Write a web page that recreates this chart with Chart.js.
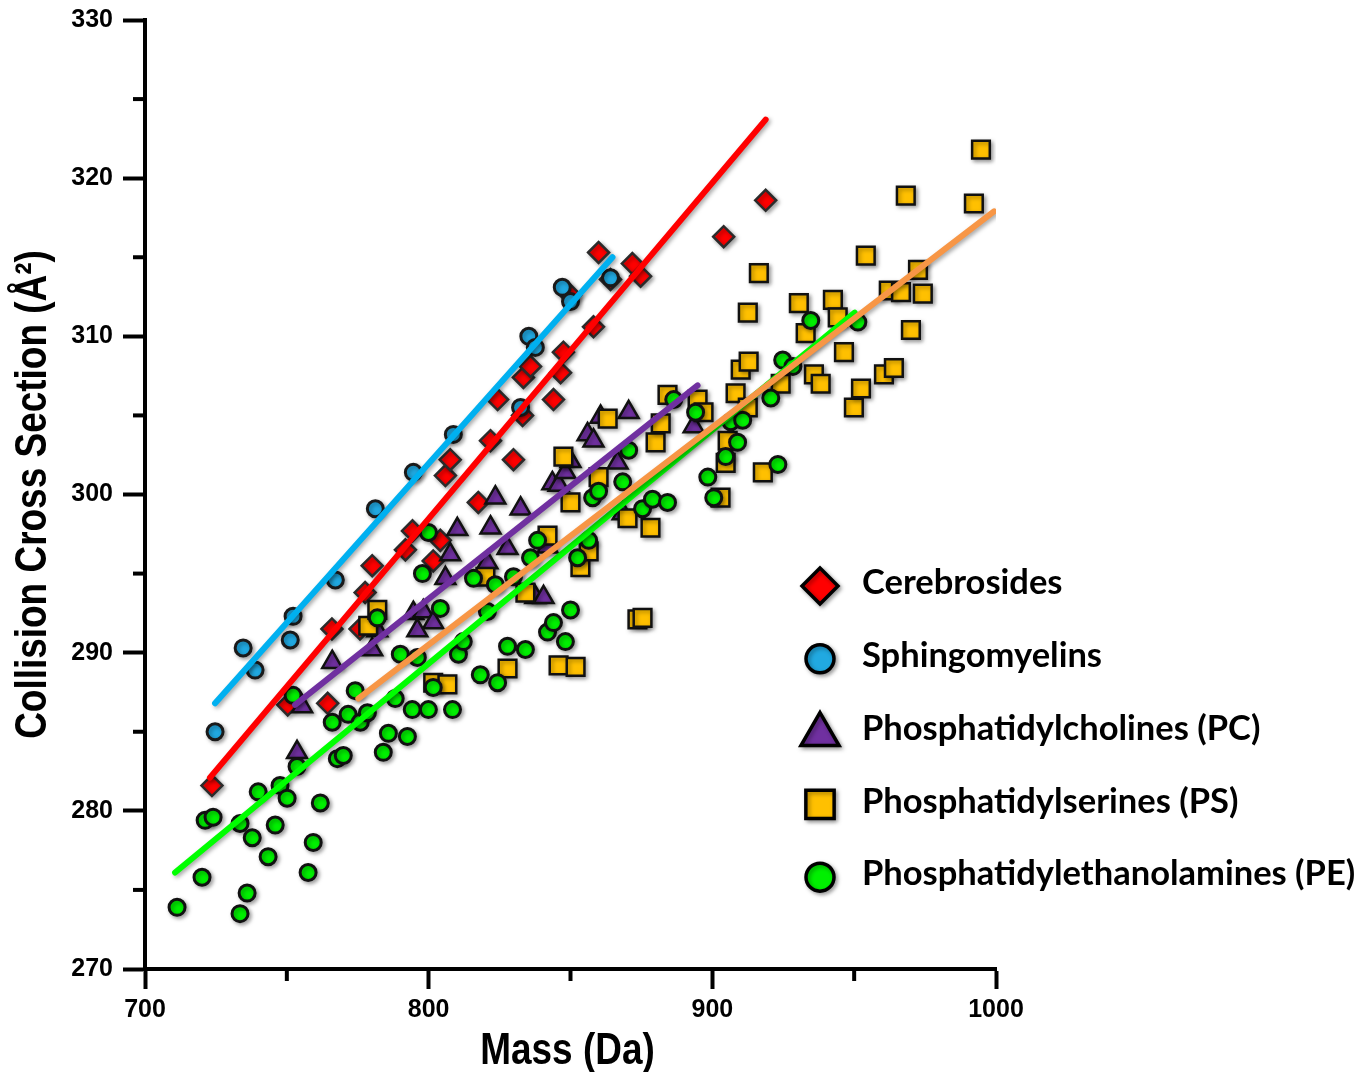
<!DOCTYPE html>
<html>
<head>
<meta charset="utf-8">
<script src="https://cdn.jsdelivr.net/npm/chart.js@4.4.0/dist/chart.umd.min.js"></script>
<style>
  html, body { margin: 0; padding: 0; background: #fff; }
  #contenedor { width: 1368px; height: 1072px; }
</style>
</head>
<body>
<div id="contenedor"><canvas id="grafica" width="1368" height="1072"></canvas></div>
<script>
// Datos (masa en Da, CCS en A^2)
const cerebrosidosMasa = [723.6, 750.3, 764.4, 765.9, 775.8, 777.6, 780.1, 791.8, 794.3, 801.6, 804.1, 805.9, 807.6, 817.5, 821.8, 829.9, 833.1, 824.3, 844.0, 833.4, 835.9, 846.5, 847.5, 858.1, 850.0, 864.1, 859.9, 871.8, 874.7, 904.0, 918.8];
const cerebrosidosCCS = [281.6, 286.7, 286.8, 291.5, 291.5, 293.8, 295.5, 296.5, 297.7, 295.8, 297.1, 301.2, 302.2, 299.5, 303.4, 302.2, 305.0, 306.0, 306.0, 307.4, 308.1, 307.7, 309.0, 310.6, 312.6, 313.6, 315.3, 314.6, 313.8, 316.3, 318.6];

const esfingoMasa = [724.7, 734.6, 738.8, 751.2, 752.2, 767.1, 781.2, 794.6, 808.7, 832.4, 835.3, 837.6, 847.1, 850.0, 864.1];
const esfingoCCS = [285.0, 290.3, 288.9, 290.8, 292.3, 294.6, 299.1, 301.4, 303.8, 305.5, 310.0, 309.3, 313.1, 312.2, 313.7];

const pcMasa = [753.6, 755.4, 766.0, 780.1, 781.9, 794.6, 798.1, 801.6, 796.0, 805.9, 807.6, 810.1, 820.7, 821.8, 823.5, 827.8, 832.4, 837.6, 840.5, 841.9, 843.6, 845.8, 848.2, 850.0, 856.0, 858.1, 860.6, 866.6, 868.4, 870.5, 893.4];
const pcCCS = [283.7, 286.6, 289.4, 290.2, 291.4, 292.5, 292.6, 291.9, 291.4, 294.7, 296.2, 297.8, 295.7, 297.9, 299.8, 296.6, 299.1, 293.5, 293.5, 296.7, 300.7, 300.6, 301.4, 302.1, 303.8, 303.4, 304.9, 302.0, 298.8, 305.2, 304.3];

const psMasa = [778.7, 781.9, 801.6, 806.6, 820.0, 827.8, 834.1, 841.9, 845.8, 851.8, 847.5, 850.0, 853.5, 856.4, 859.9, 863.1, 870.1, 873.6, 875.4, 878.2, 880.0, 881.8, 884.2, 894.8, 896.9, 902.9, 904.7, 905.4, 908.2, 910.0, 912.8, 912.5, 916.4, 912.5, 917.8, 924.1, 930.5, 932.9, 935.8, 938.2, 942.5, 944.2, 946.4, 949.9, 952.4, 954.1, 960.5, 964.0, 962.2, 966.5, 970.0, 972.5, 974.2, 968.2, 992.2, 994.7];
const psCCS = [291.7, 292.7, 288.1, 288.0, 294.8, 289.0, 293.8, 297.4, 289.2, 289.1, 302.4, 299.5, 295.4, 296.4, 301.1, 304.8, 298.5, 292.1, 292.2, 297.9, 303.3, 304.5, 306.3, 306.0, 305.2, 299.8, 302.0, 303.4, 306.4, 307.9, 308.4, 311.5, 314.0, 305.5, 301.4, 307.0, 312.1, 310.2, 307.6, 307.0, 312.3, 311.2, 309.0, 305.5, 306.7, 315.1, 307.6, 308.0, 312.9, 312.8, 310.4, 314.2, 312.7, 318.9, 318.4, 321.8];

const peMasa = [711.3, 720.1, 721.2, 724.0, 733.5, 733.5, 736.0, 737.8, 739.9, 743.4, 745.9, 747.6, 750.1, 752.2, 753.6, 757.5, 759.3, 761.8, 766.0, 767.8, 769.9, 771.6, 774.1, 775.9, 778.4, 781.9, 784.0, 785.8, 788.2, 790.0, 792.5, 794.2, 796.0, 797.8, 799.9, 799.9, 801.6, 804.1, 808.4, 810.5, 812.2, 815.8, 818.2, 820.7, 823.5, 824.3, 827.8, 829.9, 834.1, 835.9, 838.4, 841.9, 844.0, 848.2, 850.0, 852.5, 856.4, 857.8, 859.9, 868.4, 870.5, 875.4, 878.9, 884.2, 886.4, 894.1, 898.4, 900.5, 904.7, 906.5, 908.9, 910.7, 920.6, 923.1, 924.8, 928.4, 934.7, 951.3];
const peCCS = [273.9, 275.8, 279.4, 279.6, 279.2, 273.5, 274.8, 278.3, 281.2, 277.1, 279.1, 281.6, 280.8, 287.3, 282.8, 276.1, 278.0, 280.5, 285.6, 283.3, 283.5, 286.1, 287.6, 285.6, 286.2, 292.2, 283.7, 284.9, 287.1, 289.9, 284.7, 286.4, 289.7, 295.0, 297.6, 286.4, 287.8, 292.8, 286.4, 289.9, 290.7, 294.7, 288.6, 292.6, 294.3, 288.1, 290.4, 294.8, 290.2, 296.0, 297.1, 291.3, 291.9, 290.7, 292.7, 296.0, 297.1, 299.8, 300.2, 300.8, 302.8, 299.1, 299.7, 299.5, 306.0, 305.2, 301.1, 299.8, 302.4, 304.6, 303.3, 304.7, 306.1, 301.9, 308.5, 308.1, 311.0, 310.9];

// Rectas de ajuste: extremos [masa, ccs]
const ajusteCerebrosidos = [[722.9, 282.1], [918.8, 323.7]];
const ajusteEsfingo = [[724.7, 286.8], [864.8, 315.0]];
const ajustePC = [[752.9, 286.7], [894.8, 306.9]];
const ajustePS = [[775.2, 287.1], [999.3, 317.9]];
const ajustePE = [[710.6, 276.1], [950.2, 311.5]];

const etiquetas = ["Cerebrosides", "Sphingomyelins", "Phosphatidylcholines (PC)", "Phosphatidylserines (PS)", "Phosphatidylethanolamines (PE)"];
const tituloX = "Mass (Da)";
const tituloY = "Collision Cross Section (Å²)";
const ticksMenoresX = [750, 850, 950];
const ticksMenoresY = [275, 285, 295, 305, 315, 325];

function puntos(masas, ccs) {
    return masas.map((m, i) => ({ x: m, y: ccs[i] }));
}
function recta(extremos) {
    return extremos.map(p => ({ x: p[0], y: p[1] }));
}

const fuenteArial = "'Liberation Sans', Arial, sans-serif";

// Estilos de cada serie
const series = [
    { nombre: etiquetas[0], datos: puntos(cerebrosidosMasa, cerebrosidosCCS), estilo: 'rectRot', relleno: '#FF0000', borde: '#2b2b2b', radio: 10.5, anchoBorde: 2.5, radioLeyenda: 18 },
    { nombre: etiquetas[1], datos: puntos(esfingoMasa, esfingoCCS), estilo: 'circle', relleno: '#21A9E1', borde: '#1a1a1a', radio: 8, anchoBorde: 3, radioLeyenda: 14 },
    { nombre: etiquetas[2], datos: puntos(pcMasa, pcCCS), estilo: 'triangle', relleno: '#7030A0', borde: '#111', radio: 11.5, anchoBorde: 2.5, radioLeyenda: 22 },
    { nombre: etiquetas[3], datos: puntos(psMasa, psCCS), estilo: 'rect', relleno: '#FFC000', borde: '#111', radio: 12.5, anchoBorde: 2.5, radioLeyenda: 20 },
    { nombre: etiquetas[4], datos: puntos(peMasa, peCCS), estilo: 'circle', relleno: '#00F000', borde: '#111', radio: 8, anchoBorde: 3, radioLeyenda: 14 }
];

const lineas = [
    { datos: recta(ajustePS), color: '#F79646' },
    { datos: recta(ajustePE), color: '#00FF00' },
    { datos: recta(ajustePC), color: '#7030A0' },
    { datos: recta(ajusteEsfingo), color: '#00B0F0' },
    { datos: recta(ajusteCerebrosidos), color: '#FF0000' }
];

const datasets = [];
lineas.forEach(l => {
    datasets.push({
        data: l.datos,
        showLine: true,
        borderColor: l.color,
        borderWidth: 6,
        borderCapStyle: 'round',
        pointRadius: 0,
        pointHoverRadius: 0,
        fill: false,
        order: 0
    });
});
series.slice().reverse().forEach(s => {
    datasets.push({
        label: s.nombre,
        data: s.datos,
        pointStyle: s.estilo,
        pointRadius: s.radio,
        pointHoverRadius: s.radio,
        pointBackgroundColor: s.relleno,
        pointBorderColor: s.borde,
        pointBorderWidth: s.anchoBorde,
        showLine: false,
        order: 1
    });
});

// Sombra suave bajo puntos y rectas
const sombra = {
    id: 'sombra',
    beforeDatasetDraw(chart) {
        const ctx = chart.ctx;
        ctx.save();
        ctx.shadowColor = 'rgba(0,0,0,0.35)';
        ctx.shadowBlur = 4;
        ctx.shadowOffsetX = 2;
        ctx.shadowOffsetY = 2;
    },
    afterDatasetDraw(chart) {
        chart.ctx.restore();
    }
};

// Ticks menores (mas cortos)
const ticksMenores = {
    id: 'ticksMenores',
    afterDraw(chart) {
        const { ctx, chartArea } = chart;
        const x = chart.scales.x, y = chart.scales.y;
        ctx.save();
        ctx.strokeStyle = '#000';
        ctx.lineWidth = 4;
        ticksMenoresY.forEach(v => {
            const py = y.getPixelForValue(v);
            ctx.beginPath();
            ctx.moveTo(chartArea.left - 12, py);
            ctx.lineTo(chartArea.left, py);
            ctx.stroke();
        });
        ticksMenoresX.forEach(v => {
            const px = x.getPixelForValue(v);
            ctx.beginPath();
            ctx.moveTo(px, chartArea.bottom);
            ctx.lineTo(px, chartArea.bottom + 12);
            ctx.stroke();
        });
        ctx.restore();
    }
};

// Titulos de ejes (letra estrecha, como en la figura)
const titulos = {
    id: 'titulos',
    afterDraw(chart) {
        const { ctx, chartArea } = chart;
        ctx.save();
        ctx.fillStyle = '#000';
        ctx.font = "bold 44px " + fuenteArial;
        ctx.textAlign = 'center';
        ctx.textBaseline = 'middle';

        ctx.save();
        ctx.translate((chartArea.left + chartArea.right) / 2 - 3, 1052);
        ctx.scale(0.84, 1);
        ctx.fillText(tituloX, 0, 0);
        ctx.restore();

        ctx.save();
        ctx.translate(34, (chartArea.top + chartArea.bottom) / 2);
        ctx.rotate(-Math.PI / 2);
        ctx.scale(0.84, 1);
        ctx.fillText(tituloY, 0, 0);
        ctx.restore();

        ctx.restore();
    }
};

// Leyenda propia dentro del area
const leyenda = {
    id: 'leyenda',
    afterDraw(chart) {
        const ctx = chart.ctx;
        const xMarca = 820, xTexto = 862, y0 = 583, paso = 72.8;
        ctx.save();
        series.forEach((s, i) => {
            const y = y0 + i * paso;
            ctx.save();
            ctx.shadowColor = 'rgba(0,0,0,0.35)';
            ctx.shadowBlur = 4;
            ctx.shadowOffsetX = 2;
            ctx.shadowOffsetY = 2;
            ctx.fillStyle = s.relleno;
            ctx.strokeStyle = '#000';
            ctx.lineWidth = 3.5;
            Chart.helpers.drawPoint(ctx, { pointStyle: s.estilo, radius: s.radioLeyenda, borderWidth: 3.5, rotation: 0 }, xMarca, s.estilo === 'triangle' ? y + 6 : y + 3);
            ctx.restore();
            ctx.fillStyle = '#000';
            ctx.font = "bold 34.5px Lato, 'Open Sans', sans-serif";
            ctx.textAlign = 'left';
            ctx.textBaseline = 'middle';
            ctx.fillText(s.nombre, xTexto, y);
        });
        ctx.restore();
    }
};

new Chart(document.getElementById('grafica'), {
    type: 'scatter',
    data: { datasets: datasets },
    options: {
        responsive: false,
        animation: false,
        events: [],
        layout: { padding: { left: 0, right: 372, top: 20, bottom: 0 } },
        plugins: {
            legend: { display: false },
            tooltip: { enabled: false }
        },
        scales: {
            x: {
                type: 'linear',
                min: 700,
                max: 1000,
                afterFit: (scale) => {
                    scale.height = 103;
                    scale.paddingLeft = 0;
                    scale.paddingRight = 0;
                },
                ticks: {
                    stepSize: 100,
                    color: '#000',
                    padding: 6,
                    callback: (v) => String(v),
                    font: { family: fuenteArial, weight: 'bold', size: 25 }
                },
                grid: { drawOnChartArea: false, tickLength: 20, tickWidth: 4, tickColor: '#000' },
                border: { display: true, color: '#000', width: 4 },
                title: { display: false }
            },
            y: {
                type: 'linear',
                min: 270,
                max: 330,
                afterFit: (scale) => {
                    scale.width = 145;
                    scale.paddingTop = 0;
                    scale.paddingBottom = 0;
                },
                ticks: {
                    stepSize: 10,
                    color: '#000',
                    padding: 10,
                    font: { family: fuenteArial, weight: 'bold', size: 25 }
                },
                grid: { drawOnChartArea: false, tickLength: 22, tickWidth: 4, tickColor: '#000' },
                border: { display: true, color: '#000', width: 4 },
                title: { display: false }
            }
        }
    },
    plugins: [sombra, ticksMenores, titulos, leyenda]
});
</script>
</body>
</html>
